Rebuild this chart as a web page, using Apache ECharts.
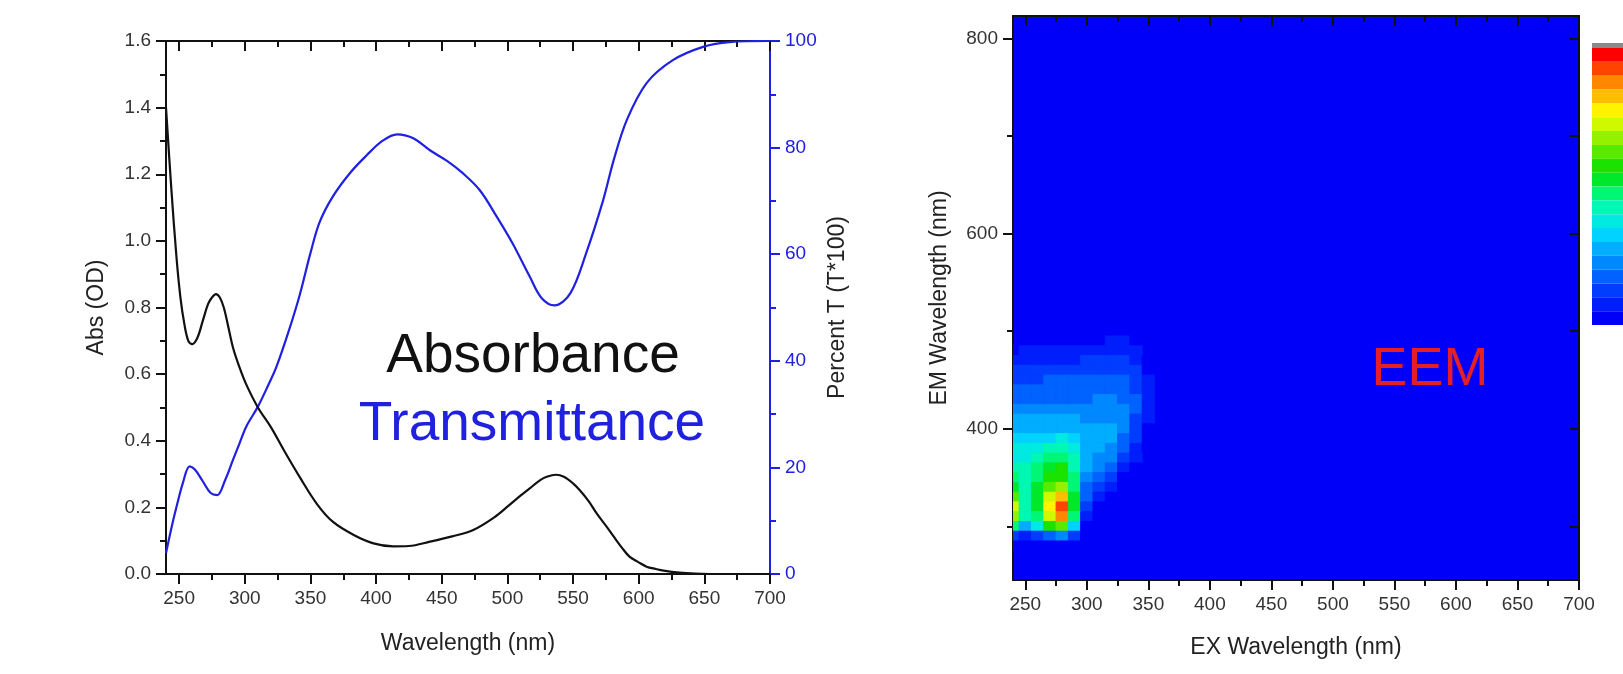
<!DOCTYPE html>
<html>
<head>
<meta charset="utf-8">
<title>Absorbance / Transmittance and EEM</title>
<script src="https://cdn.jsdelivr.net/npm/echarts@6/dist/echarts.min.js"></script>
<style>
html, body { margin: 0; padding: 0; background: #fff; }
#main { width: 1623px; height: 674px; }
</style>
</head>
<body>
<div id="main"></div>
<script>
// wavelength ticks (both panels share the 240-700 nm range)
var majorTicks = [250, 300, 350, 400, 450, 500, 550, 600, 650, 700];
var minorTicks = [275, 325, 375, 425, 475, 525, 575, 625, 675];
var emMajorTicks = [400, 600, 800];
var emMinorTicks = [300, 500, 700];

// absorbance spectrum (OD)
var absWavelength = [240, 244, 248, 251, 254, 257, 260, 264, 268, 272, 275, 278, 281, 284, 287, 291, 296, 301,
  310, 320, 330, 342, 355, 367, 383, 398, 413, 425, 441, 458, 474, 490, 500, 510, 517, 525, 530, 537, 543,
  550, 555, 562, 568, 575, 581, 587, 593, 600, 606, 613, 619, 631, 643, 655];
var absValues = [1.40, 1.16, 0.95, 0.83, 0.75, 0.70, 0.69, 0.71, 0.76, 0.81, 0.83, 0.84, 0.83, 0.80, 0.75, 0.68, 0.62, 0.57,
  0.50, 0.44, 0.37, 0.29, 0.21, 0.157, 0.117, 0.092, 0.083, 0.084, 0.097, 0.113, 0.132, 0.170, 0.202, 0.235, 0.257, 0.282, 0.292, 0.298, 0.292,
  0.272, 0.252, 0.218, 0.182, 0.145, 0.112, 0.080, 0.052, 0.035, 0.022, 0.015, 0.010, 0.004, 0.001, 0.0];

// transmittance spectrum (%T)
var transWavelength = [240, 244, 248, 253, 258, 262, 268, 274, 279, 285, 291, 296, 301, 310, 318, 324, 334, 342, 350,
  357, 367, 380, 393, 405, 416, 428, 441, 454, 466, 479, 492, 504, 517, 526, 536, 548, 560, 573, 581, 591,
  606, 626, 649, 669, 700];
var transValues = [3.9, 8.5, 12.6, 17.2, 20.2, 19.6, 17.4, 15.2, 14.8, 17.6, 21.4, 24.5, 27.6, 31.4, 35.5, 38.8, 46.0, 52.5, 60.2,
  66.0, 70.8, 75.2, 78.6, 81.3, 82.5, 81.8, 79.5, 77.5, 75.2, 72.0, 67.0, 62.0, 55.8, 51.8, 50.4, 52.7, 60.2, 70.2, 77.7, 85.2,
  92.1, 96.4, 98.9, 99.8, 100];

// EEM map: excitation columns, emission rows, relative intensity (0-1)
var exGrid = [240, 250, 260, 270, 280, 290, 300, 310, 320, 330, 340, 350];
var emGrid = [490, 480, 470, 460, 450, 440, 430, 420, 410, 400, 390, 380, 370, 360, 350, 340, 330, 320, 310, 300, 290, 280];
var eemIntensity = [
  [0, 0, 0, 0, 0, 0, 0, 0.05, 0.07, 0.07, 0.04, 0],
  [0.05, 0.06, 0.06, 0.06, 0.06, 0.06, 0.07, 0.09, 0.10, 0.10, 0.07, 0],
  [0.09, 0.10, 0.10, 0.10, 0.10, 0.10, 0.11, 0.12, 0.12, 0.12, 0.09, 0.03],
  [0.11, 0.12, 0.12, 0.12, 0.13, 0.13, 0.13, 0.14, 0.14, 0.14, 0.11, 0.05],
  [0.13, 0.14, 0.14, 0.16, 0.16, 0.16, 0.16, 0.17, 0.17, 0.16, 0.13, 0.06],
  [0.17, 0.17, 0.17, 0.18, 0.18, 0.18, 0.18, 0.19, 0.19, 0.18, 0.15, 0.07],
  [0.20, 0.20, 0.20, 0.20, 0.20, 0.20, 0.20, 0.21, 0.21, 0.20, 0.16, 0.07],
  [0.23, 0.23, 0.23, 0.23, 0.23, 0.23, 0.23, 0.23, 0.23, 0.21, 0.16, 0.07],
  [0.26, 0.26, 0.26, 0.26, 0.26, 0.26, 0.25, 0.25, 0.25, 0.22, 0.15, 0.06],
  [0.29, 0.29, 0.29, 0.30, 0.30, 0.29, 0.27, 0.27, 0.27, 0.22, 0.14, 0.05],
  [0.33, 0.33, 0.34, 0.35, 0.36, 0.33, 0.28, 0.27, 0.26, 0.20, 0.12, 0.04],
  [0.36, 0.36, 0.38, 0.41, 0.43, 0.37, 0.28, 0.26, 0.24, 0.18, 0.09, 0.02],
  [0.39, 0.38, 0.42, 0.46, 0.49, 0.40, 0.27, 0.24, 0.21, 0.14, 0.06, 0],
  [0.42, 0.40, 0.45, 0.52, 0.55, 0.44, 0.26, 0.22, 0.17, 0.10, 0.03, 0],
  [0.46, 0.42, 0.48, 0.57, 0.60, 0.46, 0.24, 0.18, 0.12, 0.05, 0, 0],
  [0.53, 0.43, 0.50, 0.63, 0.68, 0.48, 0.20, 0.12, 0.06, 0.02, 0, 0],
  [0.63, 0.44, 0.52, 0.72, 0.82, 0.50, 0.16, 0.08, 0.03, 0, 0, 0],
  [0.73, 0.44, 0.52, 0.78, 0.93, 0.50, 0.12, 0.04, 0, 0, 0, 0],
  [0.68, 0.40, 0.48, 0.72, 0.87, 0.45, 0.08, 0.02, 0, 0, 0, 0],
  [0.45, 0.30, 0.36, 0.55, 0.62, 0.32, 0.04, 0, 0, 0, 0, 0],
  [0.14, 0.10, 0.12, 0.20, 0.22, 0.12, 0.02, 0, 0, 0, 0, 0],
  [0.02, 0.01, 0.02, 0.04, 0.04, 0.02, 0, 0, 0, 0, 0, 0]
];
var eemColors = ['#0000fa', '#0040ff', '#0090ff', '#00e0ff', '#00ffa0', '#00e000', '#80f000', '#ffff00', '#ff9000', '#ff0000'];

var font = 'Liberation Sans, Arial, sans-serif';
var ink = '#111';
var blue = '#2020e0';

var absData = absWavelength.map(function (w, i) { return [w, absValues[i]]; });
var transData = transWavelength.map(function (w, i) { return [w, transValues[i]]; });
var eemData = [];
emGrid.forEach(function (em, r) {
  exGrid.forEach(function (ex, c) {
    if (eemIntensity[r][c] > 0) eemData.push([ex, em, eemIntensity[r][c]]);
  });
});
var exStep = exGrid[1] - exGrid[0];
var emStep = emGrid[0] - emGrid[1];

function tickLine(color) {
  return { color: color || ink, width: 2 };
}

// 4 x axes per grid: bottom major (labels), bottom minor, top major, top minor
function wavelengthAxes(grid, name, nameGap) {
  var base = { gridIndex: grid, type: 'value', min: 240, max: 700, splitLine: { show: false } };
  return [
    Object.assign({}, base, {
      position: 'bottom', name: name, nameLocation: 'middle', nameGap: nameGap,
      nameTextStyle: { fontSize: 23, color: '#222', fontFamily: font },
      axisLine: { onZero: false, lineStyle: tickLine() },
      axisTick: { customValues: majorTicks, length: 10, lineStyle: tickLine() },
      axisLabel: { customValues: majorTicks, fontSize: 19, color: '#333', margin: 15, fontFamily: font }
    }),
    Object.assign({}, base, {
      position: 'bottom', axisLine: { show: false, onZero: false },
      axisTick: { customValues: minorTicks, length: 6, lineStyle: tickLine() },
      axisLabel: { show: false }
    }),
    Object.assign({}, base, {
      position: 'top', axisLine: { onZero: false, lineStyle: tickLine() },
      axisTick: { inside: true, customValues: majorTicks, length: 10, lineStyle: tickLine() },
      axisLabel: { show: false }
    }),
    Object.assign({}, base, {
      position: 'top', axisLine: { show: false, onZero: false },
      axisTick: { inside: true, customValues: minorTicks, length: 6, lineStyle: tickLine() },
      axisLabel: { show: false }
    })
  ];
}

var emBase = { gridIndex: 1, type: 'value', min: 245, max: 823, splitLine: { show: false } };

var option = {
  animation: false,
  backgroundColor: '#fff',
  textStyle: { fontFamily: font },
  grid: [
    { left: 166, top: 41, width: 604, height: 533 },
    { left: 1013, top: 16, width: 566, height: 564, show: true, backgroundColor: '#0000fa', borderWidth: 0 }
  ],
  xAxis: wavelengthAxes(0, 'Wavelength (nm)', 58).concat(wavelengthAxes(1, 'EX Wavelength (nm)', 56)),
  yAxis: [
    {
      gridIndex: 0, type: 'value', position: 'left', min: 0, max: 1.6, interval: 0.2,
      name: 'Abs (OD)', nameLocation: 'middle', nameGap: 58, nameRotate: 90,
      nameTextStyle: { fontSize: 23, color: '#222', fontFamily: font },
      splitLine: { show: false },
      axisLine: { onZero: false, lineStyle: tickLine() },
      axisTick: { length: 10, lineStyle: tickLine() },
      minorTick: { show: true, splitNumber: 2, length: 6, lineStyle: tickLine() },
      axisLabel: { fontSize: 19, color: '#333', margin: 15, fontFamily: font,
        formatter: function (v) { return v.toFixed(1); } }
    },
    {
      gridIndex: 0, type: 'value', position: 'right', min: 0, max: 100, interval: 20,
      name: 'Percent T (T*100)', nameLocation: 'middle', nameGap: 56, nameRotate: 90,
      nameTextStyle: { fontSize: 23, color: '#222', fontFamily: font },
      splitLine: { show: false },
      axisLine: { onZero: false, lineStyle: tickLine(blue) },
      axisTick: { length: 10, lineStyle: tickLine(blue) },
      minorTick: { show: true, splitNumber: 2, length: 6, lineStyle: tickLine(blue) },
      axisLabel: { fontSize: 19, color: blue, margin: 15, fontFamily: font }
    },
    Object.assign({}, emBase, {
      position: 'left', name: 'EM Wavelength (nm)', nameLocation: 'middle', nameGap: 62, nameRotate: 90,
      nameTextStyle: { fontSize: 23, color: '#222', fontFamily: font },
      axisLine: { onZero: false, lineStyle: tickLine() },
      axisTick: { customValues: emMajorTicks, length: 10, lineStyle: tickLine() },
      axisLabel: { customValues: emMajorTicks, fontSize: 19, color: '#333', margin: 15, fontFamily: font }
    }),
    Object.assign({}, emBase, {
      position: 'left', axisLine: { show: false, onZero: false },
      axisTick: { customValues: emMinorTicks, length: 6, lineStyle: tickLine() },
      axisLabel: { show: false }
    }),
    Object.assign({}, emBase, {
      position: 'right', axisLine: { onZero: false, lineStyle: tickLine() },
      axisTick: { inside: true, customValues: emMajorTicks, length: 10, lineStyle: tickLine() },
      axisLabel: { show: false }
    }),
    Object.assign({}, emBase, {
      position: 'right', axisLine: { show: false, onZero: false },
      axisTick: { inside: true, customValues: emMinorTicks, length: 10, lineStyle: tickLine() },
      axisLabel: { show: false }
    })
  ],
  visualMap: {
    type: 'piecewise', seriesIndex: 2, dimension: 2, min: 0, max: 1, splitNumber: 20,
    orient: 'vertical', left: 1592, top: 48, padding: 0, itemWidth: 40, itemHeight: 13.85, itemGap: 0,
    itemSymbol: 'rect', showLabel: false, hoverLink: false,
    inRange: { color: eemColors }
  },
  series: [
    {
      name: 'Absorbance', type: 'line', xAxisIndex: 0, yAxisIndex: 0, data: absData,
      smooth: 0.35, showSymbol: false, z: 3,
      lineStyle: { color: ink, width: 2.2 }
    },
    {
      name: 'Transmittance', type: 'line', xAxisIndex: 0, yAxisIndex: 1, data: transData,
      smooth: 0.35, showSymbol: false, z: 2,
      lineStyle: { color: blue, width: 2.2 }
    },
    {
      name: 'EEM', type: 'custom', xAxisIndex: 4, yAxisIndex: 2, data: eemData,
      encode: { x: 0, y: 1 }, silent: true, clip: true,
      renderItem: function (params, api) {
        var ex = api.value(0), em = api.value(1);
        var a = api.coord([ex - exStep / 2, em + emStep / 2]);
        var b = api.coord([ex + exStep / 2, em - emStep / 2]);
        var cs = params.coordSys;
        var rect = echarts.graphic.clipRectByRect(
          { x: a[0], y: a[1], width: b[0] - a[0], height: b[1] - a[1] },
          { x: cs.x, y: cs.y, width: cs.width, height: cs.height });
        if (!rect) return null;
        var c = api.visual('color');
        return { type: 'rect', shape: rect, style: { fill: c, stroke: c, lineWidth: 1 } };
      }
    }
  ],
  graphic: [
    { type: 'text', x: 533, y: 357, style: { text: 'Absorbance', fontSize: 55, fontFamily: font, fill: ink, align: 'center', verticalAlign: 'middle' } },
    { type: 'text', x: 532, y: 425, style: { text: 'Transmittance', fontSize: 55, fontFamily: font, fill: blue, align: 'center', verticalAlign: 'middle' } },
    { type: 'text', x: 1430, y: 370, style: { text: 'EEM', fontSize: 54, fontFamily: font, fill: '#e41f26', align: 'center', verticalAlign: 'middle' } },
    { type: 'rect', shape: { x: 1592, y: 43, width: 40, height: 5 }, style: { fill: '#8a8a8a' } }
  ]
};

var chart = echarts.init(document.getElementById('main'));
chart.setOption(option);
</script>
</body>
</html>
